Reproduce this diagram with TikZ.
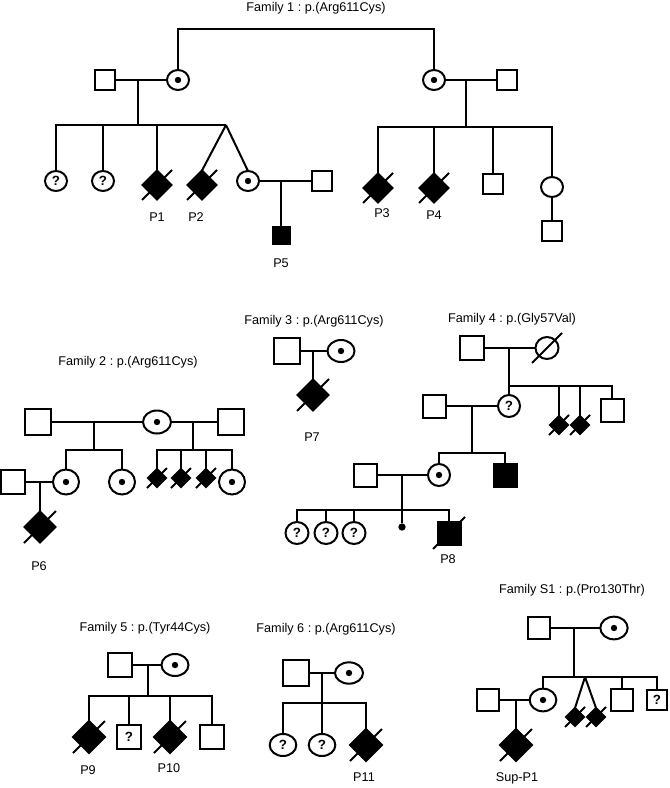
\documentclass[tikz,border=0pt]{standalone}
\usepackage{fontspec}
\setmainfont{Liberation Sans}
\usetikzlibrary{shapes.geometric,calc}
\newcommand\slashit[2]{\draw ($(#1.center)+(-#2,#2)$) -- ($(#1.center)+(#2,-#2)$);}
\frenchspacing
\begin{document}
\begin{tikzpicture}[x=0.75pt,y=-0.75pt,line width=1.5pt,
  every node/.style={inner sep=0pt,outer sep=0pt},
  sq/.style={draw,rectangle,fill=white,minimum size=#1},
  asq/.style={draw,rectangle,fill=black,minimum size=#1},
  circ/.style args={#1/#2}{draw,ellipse,fill=white,minimum width=#1,minimum height=#2},
  carrier/.style={path picture={\fill[black] (path picture bounding box.center) circle (2.4pt);}},
  dia/.style={draw,diamond,aspect=1,fill=black,minimum size=#1},
  qm/.style={font=\fontsize{10}{11}\selectfont\bfseries},
  ttl/.style={font=\fontsize{9.5}{11}\selectfont},
  lbl/.style={font=\fontsize{9.5}{11}\selectfont}]
\useasboundingbox (0,0) rectangle (670,788);

% ---------------- Family 1
\node[ttl] (f1t) at (316,8) {Family 1 : p.(Arg611Cys)};
\node[sq=15pt] (s1a) at (105,80) {};
\node[circ={16.5pt/15pt},carrier] (c1a) at (178,80) {};
\node[circ={16.5pt/15pt},carrier] (c1b) at (434,80) {};
\node[sq=15pt] (s1c) at (507,80) {};
\coordinate (t1) at (178,29); \coordinate (t2) at (434,29);
\draw (c1a.north) -- (t1) -- (t2) -- (c1b.north);
\draw (s1a) -- (c1a);
\coordinate (m1) at (138,80); \coordinate (b1) at (138,125); \coordinate (ap1) at (226,125);
\node[circ={16.5pt/15pt},qm] (q1) at (56,181) {?};
\node[circ={16.5pt/15pt},qm] (q2) at (103,181) {?};
\node[dia=21.75pt] (p1) at (157,185) {};
\node[dia=21.75pt] (p2) at (202,185) {};
\node[circ={16.5pt/15pt},carrier] (c1c) at (248,181) {};
\node[sq=15pt] (s1b) at (322,181) {};
\node[asq=12.75pt] (p5) at (281,235) {};
\draw (m1) -- (b1);
\draw (q1.north) |- (b1) -- (ap1);
\draw (q2.north) -- (q2.north |- b1);
\draw (p1.north) -- (p1.north |- b1);
\draw (ap1) -- (p2.north);
\draw (ap1) -- (c1c.north);
\draw (c1c) -- (s1b);
\coordinate (m1b) at (281,181);
\draw (m1b) -- (p5.north);
\slashit{p1}{15} \slashit{p2}{15}
\node[lbl] (lp1) at (157,217) {P1};
\node[lbl] (lp2) at (196,217) {P2};
\node[lbl] (lp5) at (281,263) {P5};
\draw (c1b) -- (s1c);
\coordinate (m2) at (466,80); \coordinate (b2) at (466,127);
\node[dia=21.75pt] (p3) at (378,188) {};
\node[dia=21.75pt] (p4) at (434,188) {};
\node[sq=15pt] (s1d) at (493,184) {};
\node[circ={16.5pt/15pt}] (c1d) at (552,187) {};
\node[sq=15pt] (s1e) at (552,231) {};
\draw (m2) -- (b2);
\draw (p3.north) |- (b2) -| (c1d.north);
\draw (p4.north) -- (p4.north |- b2);
\draw (s1d.north) -- (s1d.north |- b2);
\draw (c1d) -- (s1e);
\slashit{p3}{15} \slashit{p4}{15}
\node[lbl] (lp3) at (382,213) {P3};
\node[lbl] (lp4) at (434,215) {P4};

% ---------------- Family 2
\node[ttl] (f2t) at (128,362) {Family 2 : p.(Arg611Cys)};
\node[sq=19pt] (s2a) at (38,422) {};
\node[circ={21pt/17.25pt},carrier] (c2a) at (157,422) {};
\node[sq=19pt] (s2b) at (231,422) {};
\draw (s2a) -- (c2a);
\draw (c2a) -- (s2b);
\coordinate (m3) at (94,422); \coordinate (b3) at (94,450);
\node[circ={19.5pt/18.75pt},carrier] (c2b) at (66,482) {};
\node[circ={19.5pt/18.75pt},carrier] (c2c) at (122,482) {};
\draw (m3) -- (b3);
\draw (c2b.north) |- (b3) -| (c2c.north);
\coordinate (m4) at (193,422); \coordinate (b4) at (193,450);
\node[dia=13.5pt] (d2a) at (157,478) {};
\node[dia=13.5pt] (d2b) at (181,478) {};
\node[dia=13.5pt] (d2c) at (206,478) {};
\node[circ={19.5pt/18.75pt},carrier] (c2d) at (232,482) {};
\draw (m4) -- (b4);
\draw (d2a.north) |- (b4) -| (c2d.north);
\draw (d2b.north) -- (d2b.north |- b4);
\draw (d2c.north) -- (d2c.north |- b4);
\slashit{d2a}{10} \slashit{d2b}{10} \slashit{d2c}{10}
\node[sq=18pt] (s2c) at (13,482) {};
\draw (s2c) -- (c2b);
\coordinate (m5) at (40,482);
\node[dia=23.25pt] (p6) at (40,527) {};
\draw (m5) -- (p6.north);
\slashit{p6}{16}
\node[lbl] (lp6) at (39,566) {P6};

% ---------------- Family 3
\node[ttl] (f3t) at (314,321) {Family 3 : p.(Arg611Cys)};
\node[sq=19.5pt] (s3a) at (287,351) {};
\node[circ={20.25pt/16.5pt},carrier] (c3a) at (341,351) {};
\draw (s3a) -- (c3a);
\coordinate (m6) at (313,351);
\node[dia=23.25pt] (p7) at (313,395) {};
\draw (m6) -- (p7.north);
\slashit{p7}{16}
\node[lbl] (lp7) at (312,437) {P7};

% ---------------- Family 4
\node[ttl] (f4t) at (512,319) {Family 4 : p.(Gly57Val)};
\node[sq=18pt] (s4a) at (472,348) {};
\node[circ={17.25pt/16.5pt}] (c4a) at (547,348) {};
\slashit{c4a}{15}
\draw (s4a) -- (c4a);
\coordinate (m7) at (509,348); \coordinate (b7) at (509,386);
\node[circ={16.5pt/16.5pt},qm] (q4a) at (509,406) {?};
\node[dia=13.5pt] (d4a) at (559,425) {};
\node[dia=13.5pt] (d4b) at (580,425) {};
\node[sq=17.25pt] (s4b) at (612,410) {};
\draw (m7) -- (q4a.north);
\draw (b7) -| (s4b.north);
\draw (d4a.north) -- (d4a.north |- b7);
\draw (d4b.north) -- (d4b.north |- b7);
\slashit{d4a}{10} \slashit{d4b}{10}
\node[sq=17.25pt] (s4c) at (434,406) {};
\draw (s4c) -- (q4a);
\coordinate (m8) at (472,406); \coordinate (b8) at (472,453);
\node[circ={16.5pt/16.5pt},carrier] (c4b) at (439,475) {};
\node[asq=17.25pt] (s4d) at (505,475) {};
\draw (m8) -- (b8);
\draw (c4b.north) |- (b8) -| (s4d.north);
\node[sq=17.25pt] (s4e) at (365,475) {};
\draw (s4e) -- (c4b);
\coordinate (m9) at (402,475); \coordinate (b9) at (402,510);
\node[circ={17.25pt/16.5pt},qm] (q4b) at (297,533) {?};
\node[circ={17.25pt/16.5pt},qm] (q4c) at (326,533) {?};
\node[circ={17.25pt/16.5pt},qm] (q4d) at (354,533) {?};
\node[circle,fill=black,minimum size=5.5pt] (md) at (402,527) {};
\node[asq=17.25pt] (p8) at (449,533) {};
\draw (m9) -- (md);
\draw (q4b.north) |- (b9) -| (p8.north);
\draw (q4c.north) -- (q4c.north |- b9);
\draw (q4d.north) -- (q4d.north |- b9);
\slashit{p8}{16}
\node[lbl] (lp8) at (448,559) {P8};

% ---------------- Family 5
\node[ttl] (f5t) at (145,628) {Family 5 : p.(Tyr44Cys)};
\node[sq=18pt] (s5a) at (120,665) {};
\node[circ={20.25pt/16.5pt},carrier] (c5a) at (175,665) {};
\draw (s5a) -- (c5a);
\coordinate (m10) at (148,665); \coordinate (b10) at (148,696);
\node[dia=24pt] (p9) at (89,737) {};
\node[sq=18pt,qm] (q5) at (129,737) {?};
\node[dia=24pt] (p10) at (170,737) {};
\node[sq=18pt] (s5b) at (212,737) {};
\draw (m10) -- (b10);
\draw (p9.north) |- (b10) -| (s5b.north);
\draw (q5.north) -- (q5.north |- b10);
\draw (p10.north) -- (p10.north |- b10);
\slashit{p9}{16} \slashit{p10}{16}
\node[lbl] (lp9) at (88,770) {P9};
\node[lbl] (lp10) at (169,768) {P10};

% ---------------- Family 6
\node[ttl] (f6t) at (326,629) {Family 6 : p.(Arg611Cys)};
\node[sq=19pt] (s6a) at (296,673) {};
\node[circ={21pt/16pt},carrier] (c6a) at (349,673) {};
\draw (s6a) -- (c6a);
\coordinate (m11) at (322,673); \coordinate (b11) at (322,703);
\node[circ={20pt/16.5pt},qm] (q6a) at (283,745) {?};
\node[circ={20pt/16.5pt},qm] (q6b) at (322,745) {?};
\node[dia=24pt] (p11) at (366,745) {};
\draw (m11) -- (q6b.north);
\draw (q6a.north) |- (b11) -| (p11.north);
\slashit{p11}{16}
\node[lbl] (lp11) at (364,777) {P11};

% ---------------- Family S1
\node[ttl] (fst) at (572,590) {Family S1 : p.(Pro130Thr)};
\node[sq=16.5pt] (sS) at (539,628) {};
\node[circ={20.5pt/17pt},carrier] (cS) at (614,628) {};
\draw (sS) -- (cS);
\coordinate (m12) at (574,628); \coordinate (b12) at (574,677); \coordinate (ap2) at (585,677);
\node[circ={20pt/17pt},carrier] (cS2) at (543,700) {};
\node[dia=13.5pt] (dS1) at (575,717) {};
\node[dia=13.5pt] (dS2) at (596,717) {};
\node[sq=16.5pt] (sS3) at (622,700) {};
\node[sq=15pt,qm] (sS4) at (657,700) {?};
\draw (m12) -- (b12);
\draw (cS2.north) |- (b12) -- (ap2) -| (sS4.north);
\draw (sS3.north) -- (sS3.north |- b12);
\draw (ap2) -- (dS1.north);
\draw (ap2) -- (dS2.north);
\slashit{dS1}{10} \slashit{dS2}{10}
\node[sq=16.5pt] (sS2) at (488,700) {};
\draw (sS2) -- (cS2);
\coordinate (m13) at (516,700);
\node[dia=24pt] (sp1) at (516,745) {};
\draw (m13) -- (sp1.north);
\slashit{sp1}{16}
\node[lbl] (lsp1) at (517,778) {Sup-P1};
\end{tikzpicture}
\end{document}
